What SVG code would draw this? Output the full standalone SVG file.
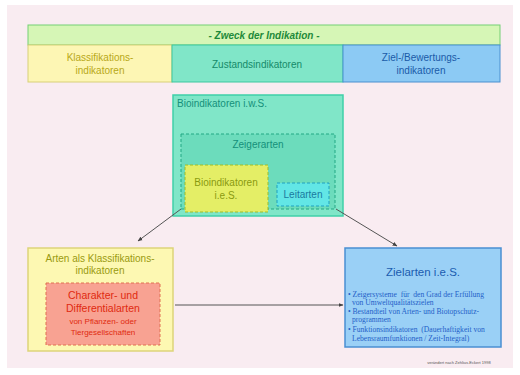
<svg xmlns="http://www.w3.org/2000/svg" width="520" height="375" viewBox="0 0 520 375">
<defs>
<marker id="ah" viewBox="0 0 10 10" refX="9" refY="5" markerWidth="5" markerHeight="5" orient="auto"><path d="M0,1 L10,5 L0,9 z" fill="#444"/></marker>
</defs>
<style>
text{font-family:"Liberation Sans",Arial,sans-serif;text-anchor:middle}
.ser{font-family:"Liberation Serif","Times New Roman",serif;text-anchor:start;font-size:7.6px;fill:#1f5fc8;white-space:pre}
.conn{stroke:#555;stroke-width:1;fill:none;marker-end:url(#ah)}
</style>
<rect x="0" y="0" width="520" height="375" fill="#ffffff"/>
<rect x="7" y="5" width="506" height="363" fill="#f9ecf1"/>

<g id="header">
<rect x="28" y="25" width="472" height="20" fill="#d6f6b6" stroke="#74cf74" stroke-width="1"/>
<text x="264" y="39" font-size="10" font-weight="bold" font-style="italic" fill="#1f8a3a">- Zweck der Indikation -</text>
</g>
<g id="klassifikationsindikatoren">
<rect x="28" y="45" width="144" height="37" fill="#fdf6b4" stroke="#d8d078" stroke-width="1"/>
<text x="100" y="61" font-size="10" fill="#b8a818">Klassifikations-</text>
<text x="100" y="74" font-size="10" fill="#b8a818">indikatoren</text>
</g>
<g id="zustandsindikatoren">
<rect x="172" y="45" width="171" height="37" fill="#80e6c8" stroke="#3cc8a0" stroke-width="1"/>
<text x="257" y="68" font-size="10" fill="#158a68">Zustandsindikatoren</text>
</g>
<g id="zielindikatoren">
<rect x="343" y="45" width="157" height="37" fill="#8ccaf4" stroke="#4a90d0" stroke-width="1"/>
<text x="421" y="61" font-size="10" fill="#1a5aa8">Ziel-/Bewertungs-</text>
<text x="421" y="74" font-size="10" fill="#1a5aa8">indikatoren</text>
</g>

<g id="bioindikatoren-iws">
<rect x="173" y="95" width="170" height="121" fill="#80e6c8" stroke="#3fd0a8" stroke-width="1.5"/>
<text x="177" y="107" font-size="10" fill="#14907a" style="text-anchor:start">Bioindikatoren i.w.S.</text>
</g>
<g id="zeigerarten">
<rect x="181" y="134" width="154" height="75" fill="#6cdcbc" stroke="#22a884" stroke-width="1" stroke-dasharray="3,2"/>
<text x="258" y="148" font-size="10" fill="#14907a">Zeigerarten</text>
</g>
<g id="bioindikatoren-ies">
<rect x="185" y="165" width="83" height="47" fill="#e4ee66" stroke="#9cbc2a" stroke-width="1" stroke-dasharray="3,2"/>
<text x="226" y="186" font-size="10" fill="#8a9a10">Bioindikatoren</text>
<text x="226" y="199" font-size="10" fill="#8a9a10">i.e.S.</text>
</g>
<g id="leitarten">
<rect x="277" y="183" width="52" height="23" fill="#62e6e6" stroke="#1ea0c0" stroke-width="1" stroke-dasharray="3,2"/>
<text x="303" y="198" font-size="10" fill="#1a7aa0">Leitarten</text>
</g>

<g id="arten-klassifikation">
<rect x="28" y="248" width="145" height="103" fill="#fdf8b2" stroke="#ddd47a" stroke-width="1.5"/>
<text x="100" y="262" font-size="10" fill="#9a9a10">Arten als Klassifikations-</text>
<text x="100" y="274" font-size="10" fill="#9a9a10">indikatoren</text>
</g>
<g id="charakterarten">
<rect x="46" y="283" width="114" height="62" fill="#f8a292" stroke="#e07050" stroke-width="1" stroke-dasharray="3,2"/>
<text x="103" y="299" font-size="10.5" fill="#e02a10">Charakter- und</text>
<text x="103" y="312" font-size="10.5" fill="#e02a10">Differentialarten</text>
<text x="103" y="324" font-size="8" fill="#e02a10">von Pflanzen- oder</text>
<text x="103" y="335" font-size="8" fill="#e02a10">Tiergesellschaften</text>
</g>

<g id="zielarten">
<rect x="345" y="248" width="156" height="99" fill="#9ad0f6" stroke="#4a8fd2" stroke-width="1.5"/>
<text x="423" y="276" font-size="11.5" fill="#1a5cb0">Zielarten i.e.S.</text>
<text class="ser" x="348" y="297" xml:space="preserve">• Zeigersysteme  für  den Grad der Erfüllung</text>
<text class="ser" x="352" y="305">von Umweltqualitätszielen</text>
<text class="ser" x="348" y="314">• Bestandteil von Arten- und Biotopschutz-</text>
<text class="ser" x="352" y="322">programmen</text>
<text class="ser" x="348" y="332" xml:space="preserve">• Funktionsindikatoren  (Dauerhaftigkeit von</text>
<text class="ser" x="352" y="341">Lebensraumfunktionen / Zeit-Integral)</text>
</g>

<g id="connectors">
<line class="conn" x1="181" y1="209" x2="138" y2="241"/>
<line class="conn" x1="336" y1="209" x2="397" y2="246"/>
<line class="conn" x1="175" y1="305" x2="343" y2="305"/>
</g>

<text x="459" y="364" font-size="4" fill="#555">verändert nach Zehlius-Eckert 1998</text>
</svg>
